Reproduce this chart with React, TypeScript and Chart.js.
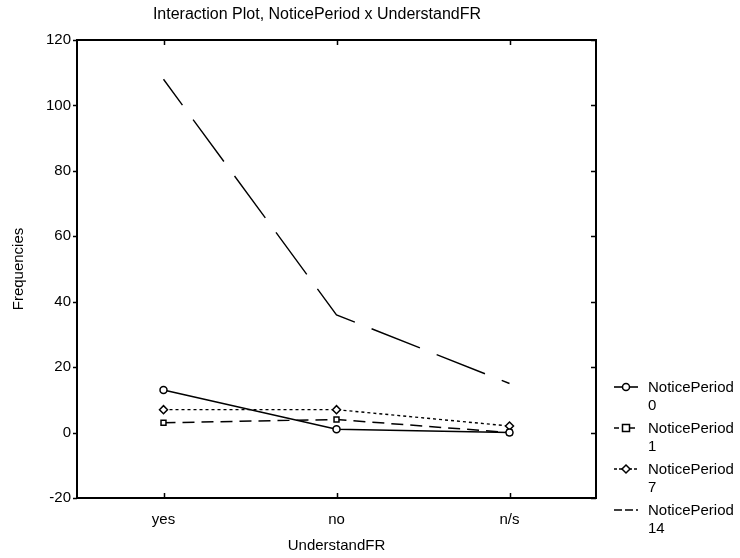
import React, { useEffect, useRef } from "react";
import { Chart, registerables } from "chart.js";

Chart.register(...registerables);

const categories = ["yes", "no", "n/s"];
const legendNames = ["NoticePeriod", "NoticePeriod", "NoticePeriod", "NoticePeriod"];
const legendLevels = ["0", "1", "7", "14"];
const np0 = [13, 1, 0];
const np1 = [3, 4, 0];
const np7 = [7, 7, 2];
const np14 = [108, 36, 15];
const yMin = -20;
const yMax = 120;
const yStep = 20;

const FONT = "'Liberation Sans', Arial, sans-serif";

type Style = { dash: number[]; offset: number; width: number; point: string | false };
const styles: Style[] = [
  { dash: [], offset: 0, width: 1.6, point: "circle" },
  { dash: [12, 7], offset: 0, width: 1.5, point: "rect" },
  { dash: [3, 3], offset: 0, width: 1.4, point: "rectRot" },
  { dash: [52, 18], offset: 20, width: 1.4, point: false },
];

function drawMarker(ctx: CanvasRenderingContext2D, kind: string | false, x: number, y: number) {
  if (!kind) return;
  ctx.save();
  ctx.setLineDash([]);
  ctx.fillStyle = "#fff";
  ctx.strokeStyle = "#000";
  ctx.lineWidth = 1.5;
  ctx.beginPath();
  if (kind === "circle") ctx.arc(x, y, 3.5, 0, Math.PI * 2);
  else if (kind === "rect") ctx.rect(x - 3.5, y - 3.5, 7, 7);
  else {
    ctx.moveTo(x, y - 4);
    ctx.lineTo(x + 4, y);
    ctx.lineTo(x, y + 4);
    ctx.lineTo(x - 4, y);
    ctx.closePath();
  }
  ctx.fill();
  ctx.stroke();
  ctx.restore();
}

const framePlugin = {
  id: "frame",
  afterDraw(chart: any) {
    const { ctx, chartArea: a, scales } = chart;
    const x = scales.x;
    const y = scales.y;
    ctx.save();
    ctx.strokeStyle = "#000";
    ctx.lineWidth = 2;
    ctx.setLineDash([]);
    ctx.strokeRect(a.left, a.top, a.right - a.left, a.bottom - a.top);
    ctx.lineWidth = 1.5;
    y.ticks.forEach((t: any) => {
      const py = Math.round(y.getPixelForValue(t.value)) + 0.5;
      ctx.beginPath();
      ctx.moveTo(a.left - 4, py);
      ctx.lineTo(a.left, py);
      ctx.moveTo(a.right - 5, py);
      ctx.lineTo(a.right, py);
      ctx.stroke();
    });
    categories.forEach((_c, i) => {
      const px = Math.round(x.getPixelForValue(i)) + 0.5;
      ctx.beginPath();
      ctx.moveTo(px, a.bottom);
      ctx.lineTo(px, a.bottom - 5);
      ctx.moveTo(px, a.top);
      ctx.lineTo(px, a.top + 5);
      ctx.stroke();
    });
    ctx.fillStyle = "#000";
    ctx.font = `16px ${FONT}`;
    ctx.textAlign = "center";
    ctx.textBaseline = "middle";
    ctx.fillText("Interaction Plot, NoticePeriod x UnderstandFR", 317, 15);
    const lx0 = 614;
    const lx1 = 638;
    const tx = 648;
    chart.data.datasets.forEach((_ds: any, i: number) => {
      const st = styles[i];
      const ly = 387 + i * 41;
      ctx.save();
      ctx.strokeStyle = "#000";
      ctx.lineWidth = st.width;
      ctx.setLineDash(i === 3 ? [8, 3] : i === 2 ? [3, 2] : i === 1 ? [5, 3] : []);
      ctx.beginPath();
      ctx.moveTo(lx0, ly);
      ctx.lineTo(lx1, ly);
      ctx.stroke();
      ctx.restore();
      drawMarker(ctx, st.point, (lx0 + lx1) / 2, ly);
      ctx.fillStyle = "#000";
      ctx.font = `15px ${FONT}`;
      ctx.textAlign = "left";
      ctx.textBaseline = "middle";
      ctx.fillText(legendNames[i], tx, ly + 1);
      ctx.fillText(legendLevels[i], tx, ly + 19);
    });
    ctx.restore();
  },
};

export default function App() {
  const ref = useRef<HTMLCanvasElement | null>(null);
  useEffect(() => {
    if (!ref.current) return;
    const series = [np0, np1, np7, np14];
    const chart = new Chart(ref.current, {
      type: "line",
      data: {
        labels: categories,
        datasets: series.map((d, i) => ({
          label: `${legendNames[i]} ${legendLevels[i]}`,
          data: d,
          borderColor: "#000",
          borderWidth: styles[i].width,
          borderDash: styles[i].dash,
          borderDashOffset: styles[i].offset,
          pointStyle: styles[i].point as any,
          pointRadius: styles[i].point ? (styles[i].point === "rectRot" ? 4 : 3.5) : 0,
          pointBackgroundColor: "#fff",
          pointBorderColor: "#000",
          pointBorderWidth: 1.5,
          tension: 0,
          fill: false,
        })),
      },
      options: {
        responsive: false,
        animation: false,
        devicePixelRatio: 1,
        layout: { padding: { top: 40, right: 144, left: 0, bottom: 0 } },
        plugins: {
          legend: { display: false },
          title: { display: false },
          tooltip: { enabled: false },
        },
        scales: {
          x: {
            type: "category",
            offset: true,
            grid: { display: false, drawTicks: false },
            border: { display: false },
            ticks: { padding: 13, color: "#000", font: { family: FONT, size: 15 } },
            title: {
              display: true,
              text: "UnderstandFR",
              color: "#000",
              font: { family: FONT, size: 15 },
              padding: { top: 0, bottom: 3 },
            },
            afterFit: (s: any) => {
              s.height = 60;
            },
          },
          y: {
            min: yMin,
            max: yMax,
            grid: { display: false, drawTicks: false },
            border: { display: false },
            ticks: { stepSize: yStep, padding: 6, color: "#000", font: { family: FONT, size: 15 } },
            title: {
              display: true,
              text: "Frequencies",
              color: "#000",
              font: { family: FONT, size: 15 },
              padding: { top: 10, bottom: 0 },
            },
            afterFit: (s: any) => {
              s.width = 77;
            },
          },
        },
      },
      plugins: [framePlugin],
    });
    return () => chart.destroy();
  }, []);
  return (
    <div style={{ position: "fixed", left: 0, top: 0, width: 740, height: 558, background: "#fff" }}>
      <canvas ref={ref} width={740} height={558} />
    </div>
  );
}
